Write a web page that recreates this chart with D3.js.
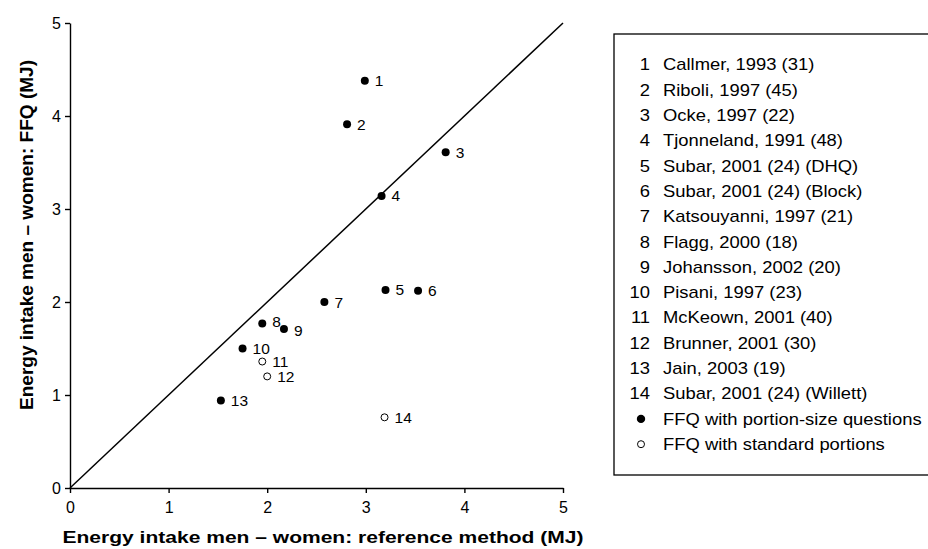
<!DOCTYPE html>
<html>
<head>
<meta charset="utf-8">
<script src="https://cdn.jsdelivr.net/npm/d3@7"></script>
<style>
  body { margin: 0; background: #fff; }
  svg { font-family: "Liberation Sans", Arial, sans-serif; }
</style>
</head>
<body>
<script>
// study labels (numbered in the legend)
const studies = [
  'Callmer, 1993 (31)', 'Riboli, 1997 (45)', 'Ocke, 1997 (22)', 'Tjonneland, 1991 (48)',
  'Subar, 2001 (24) (DHQ)', 'Subar, 2001 (24) (Block)', 'Katsouyanni, 1997 (21)',
  'Flagg, 2000 (18)', 'Johansson, 2002 (20)', 'Pisani, 1997 (23)', 'McKeown, 2001 (40)',
  'Brunner, 2001 (30)', 'Jain, 2003 (19)', 'Subar, 2001 (24) (Willett)'
];
// reference method difference (x) and FFQ difference (y), MJ
const refDiff = [2.99, 2.81, 3.81, 3.16, 3.20, 3.53, 2.58, 1.95, 2.17, 1.75, 1.95, 2.00, 1.53, 3.19];
const ffqDiff = [4.38, 3.91, 3.61, 3.14, 2.13, 2.12, 2.00, 1.77, 1.71, 1.50, 1.36, 1.20, 0.94, 0.76];
// true = FFQ with portion-size questions, false = standard portions
const portionQ = [true, true, true, true, true, true, true, true, true, true, false, false, true, false];
const ticks = [0, 1, 2, 3, 4, 5];
const kinds = ['FFQ with portion-size questions', 'FFQ with standard portions'];

const w = 928, h = 549;
const svg = d3.select('body').append('svg').attr('width', w).attr('height', h);

const x = d3.scaleLinear().domain([0, 5]).range([70, 563]);
const y = d3.scaleLinear().domain([0, 5]).range([488, 23]);

const pts = refDiff.map((d, i) => ({ n: i + 1, x: d, y: ffqDiff[i], filled: portionQ[i] }));

// axes
const xAxis = svg.append('g').attr('transform', `translate(0,${y(0)})`)
  .call(d3.axisBottom(x).tickValues(ticks).tickFormat(d3.format('d'))
    .tickSize(5).tickSizeOuter(0).tickPadding(9));
const yAxis = svg.append('g').attr('transform', `translate(${x(0)},0)`)
  .call(d3.axisLeft(y).tickValues(ticks).tickFormat(d3.format('d'))
    .tickSize(5).tickSizeOuter(0).tickPadding(4));
[xAxis, yAxis].forEach(a => {
  a.selectAll('path, line').attr('stroke', '#000').attr('stroke-width', 1.4);
  a.selectAll('text').attr('font-size', 16).attr('fill', '#000')
    .attr('font-family', '"Liberation Sans", Arial, sans-serif');
});

// identity line
svg.append('line')
  .attr('x1', x(0)).attr('y1', y(0)).attr('x2', x(5)).attr('y2', y(5))
  .attr('stroke', '#000').attr('stroke-width', 1.5);

// points
svg.selectAll('circle.pt').data(pts).enter().append('circle')
  .attr('class', 'pt')
  .attr('cx', d => x(d.x)).attr('cy', d => y(d.y))
  .attr('r', d => d.filled ? 4 : 3.5)
  .attr('fill', d => d.filled ? '#000' : '#fff')
  .attr('stroke', '#000').attr('stroke-width', d => d.filled ? 0 : 1);

// small nudges so the labels sit like the original
const nudge = { 8: -2, 9: 2 };
svg.selectAll('text.lab').data(pts).enter().append('text')
  .attr('class', 'lab')
  .attr('x', d => x(d.x) + 10)
  .attr('y', d => y(d.y) + 5.5 + (nudge[d.n] || 0))
  .attr('font-size', 15.5)
  .text(d => d.n);

// axis titles
svg.append('text')
  .attr('x', 323).attr('y', 543)
  .attr('text-anchor', 'middle').attr('font-size', 17).attr('font-weight', 'bold')
  .attr('textLength', 521).attr('lengthAdjust', 'spacingAndGlyphs')
  .text('Energy intake men \u2013 women: reference method (MJ)');
svg.append('text')
  .attr('transform', `translate(33,235) rotate(-90)`)
  .attr('text-anchor', 'middle').attr('font-size', 18.5).attr('font-weight', 'bold')
  .attr('textLength', 350).attr('lengthAdjust', 'spacingAndGlyphs')
  .text('Energy intake men \u2013 women: FFQ (MJ)');

// legend
const lg = svg.append('g');
lg.append('rect')
  .attr('x', 614).attr('y', 34).attr('width', 330).attr('height', 441)
  .attr('fill', 'none').attr('stroke', '#000').attr('stroke-width', 1.3);
const rowY = i => 64.7 + i * 25.3;
const stretch = 1.15;
lg.selectAll('text.num').data(studies).enter().append('text')
  .attr('transform', (d, i) => `translate(650,${rowY(i) + 5.7}) scale(${stretch},1)`)
  .attr('text-anchor', 'end').attr('font-size', 16)
  .text((d, i) => i + 1);
lg.selectAll('text.name').data(studies).enter().append('text')
  .attr('transform', (d, i) => `translate(663,${rowY(i) + 5.7}) scale(${stretch},1)`)
  .attr('font-size', 16)
  .text(d => d);
kinds.forEach((k, j) => {
  const yy = rowY(studies.length + j);
  lg.append('circle').attr('cx', 641).attr('cy', yy)
    .attr('r', j === 0 ? 4.2 : 3.5)
    .attr('fill', j === 0 ? '#000' : '#fff')
    .attr('stroke', '#000').attr('stroke-width', j === 0 ? 0 : 1);
  lg.append('text')
    .attr('transform', `translate(663,${yy + 5.7}) scale(${stretch},1)`)
    .attr('font-size', 16).text(k);
});
</script>
</body>
</html>
